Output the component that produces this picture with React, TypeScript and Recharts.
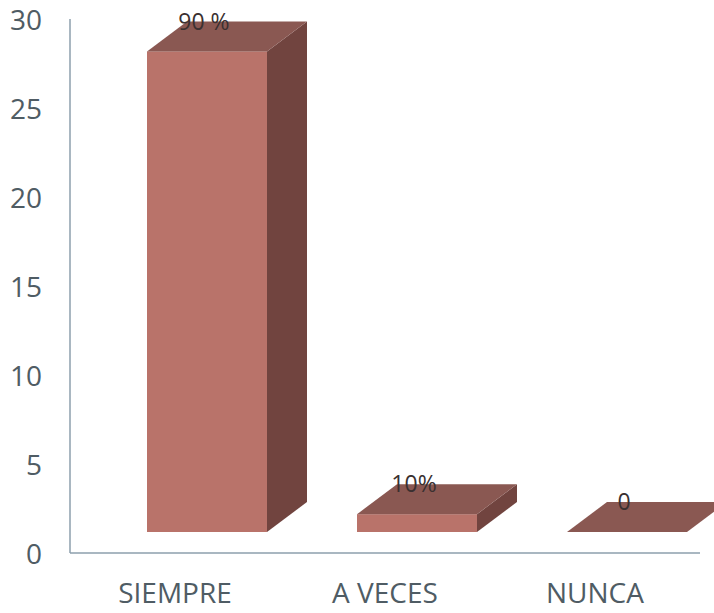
import React from "react";
import { BarChart, Bar, XAxis, YAxis, LabelList } from "recharts";

const categories = ["SIEMPRE", "A VECES", "NUNCA"];
const values = [27, 1, 0];
const valueLabels = ["90 %", "10%", "0"];
const yTicks = [0, 5, 10, 15, 20, 25, 30];

const data = categories.map((c, i) => ({ name: c, value: values[i], label: valueLabels[i] }));

const DX = 40;
const DY = 30;
const SHIFT_X = 32;
const SHIFT_Y = -21;

const FRONT = "#b9736a";
const TOP = "#8a5852";
const SIDE = "#71443f";

const Box3D = (props: any) => {
  const { x, y, width, height } = props;
  const x0 = x + SHIFT_X;
  const y0 = y + SHIFT_Y;
  const h = Math.max(0, height);
  const x1 = x0 + width;
  const yb = y0 + h;
  return (
    <g>
      {h > 0 && <rect x={x0} y={y0} width={width} height={h} fill={FRONT} />}
      {h > 0 && (
        <polygon
          points={`${x1},${y0} ${x1 + DX},${y0 - DY} ${x1 + DX},${yb - DY} ${x1},${yb}`}
          fill={SIDE}
        />
      )}
      <polygon
        points={`${x0},${y0} ${x0 + DX},${y0 - DY} ${x1 + DX},${y0 - DY} ${x1},${y0}`}
        fill={TOP}
      />
    </g>
  );
};

const renderLabel = (props: any) => {
  const { x, y, width, value } = props;
  const cx = x + SHIFT_X + width / 2 - 3;
  const cy = y + SHIFT_Y - DY + 2;
  return (
    <text
      x={cx}
      y={cy}
      textAnchor="middle"
      dominantBaseline="middle"
      fontSize={23}
      fontFamily="'Open Sans', sans-serif"
      fill="#3a3030"
    >
      {value}
    </text>
  );
};

const XTick = (props: any) => {
  const { x, y, payload } = props;
  return (
    <text
      x={x}
      y={y + 42}
      textAnchor="middle"
      fontSize={28}
      fontFamily="'Open Sans', sans-serif"
      fill="#4f5c64"
    >
      {payload.value}
    </text>
  );
};

const YTick = (props: any) => {
  const { x, y, payload } = props;
  return (
    <text
      x={x}
      y={y}
      textAnchor="end"
      dominantBaseline="central"
      fontSize={28}
      fontFamily="'Open Sans', sans-serif"
      fill="#4f5c64"
    >
      {payload.value}
    </text>
  );
};

export default function App() {
  return (
    <div style={{ position: "absolute", left: 0, top: 0, width: 714, height: 613, background: "#fff" }}>
      <BarChart
        width={714}
        height={613}
        data={data}
        margin={{ top: 19, right: 14, bottom: 0, left: 0 }}
      >
        <XAxis
          dataKey="name"
          axisLine={{ stroke: "#8c9fac", strokeWidth: 1.5 }}
          tickLine={false}
          tick={<XTick />}
          height={60}
        />
        <YAxis
          domain={[0, 30]}
          ticks={yTicks}
          axisLine={{ stroke: "#8c9fac", strokeWidth: 1.5 }}
          tickLine={false}
          tick={<YTick />}
          tickMargin={22}
          width={70}
          interval={0}
        />
        <Bar dataKey="value" barSize={120} shape={<Box3D />} isAnimationActive={false}>
          <LabelList dataKey="label" content={renderLabel} />
        </Bar>
      </BarChart>
    </div>
  );
}
